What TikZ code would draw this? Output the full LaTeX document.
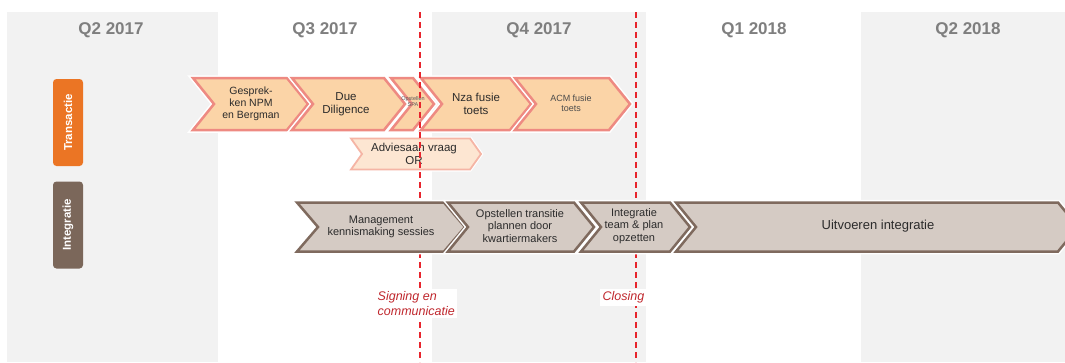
\documentclass[tikz,border=0pt]{standalone}
\usepackage{fontspec}
\setmainfont{Liberation Sans}
\definecolor{bggray}{HTML}{F2F2F2}
\definecolor{qgray}{HTML}{7F7F7F}
\definecolor{torange}{HTML}{EB7524}
\definecolor{ibrown}{HTML}{7B675A}
\definecolor{tfill}{HTML}{FBD4A7}
\definecolor{tline}{HTML}{EE8A82}
\definecolor{afill}{HTML}{FDE6D2}
\definecolor{aline}{HTML}{F5B5A5}
\definecolor{ifill}{HTML}{D5CBC4}
\definecolor{iline}{HTML}{7F6A5E}
\definecolor{mred}{HTML}{E8252D}
\definecolor{mtext}{HTML}{C0272D}
\definecolor{ctext}{HTML}{2B2B2B}
\newcommand\chevshape[6]{%
  \draw[#1] (#2,#4-#5) -- (#3,#4-#5) -- (#3+#6,#4) -- (#3,#4+#5) -- (#2,#4+#5) -- (#2+#6,#4) -- cycle;}
\begin{document}
\begin{tikzpicture}[x=1pt,y=-1pt,
  qlabel/.style={text=qgray, font=\bfseries\fontsize{17}{19}\selectfont},
  sidebox/.style={rotate=90, rounded corners=3.5pt, minimum width=87pt, minimum height=30pt,
    inner sep=0pt, text=white, font=\bfseries\fontsize{11.5}{13}\selectfont},
  tchev/.style={fill=tfill, draw=tline, line width=2.5pt, preaction={draw=white, line width=5.5pt}},
  achev/.style={fill=afill, draw=aline, line width=1.8pt, preaction={draw=white, line width=4pt}},
  ichev/.style={fill=ifill, draw=iline, line width=2.5pt, preaction={draw=white, line width=5.5pt}},
  ctxt/.style={align=center, text=ctext, inner sep=0pt, font=\fontsize{11}{12.3}\selectfont},
  milestone/.style={draw=mred, line width=1.5pt, dash pattern=on 6pt off 4pt},
  mlabel/.style={fill=white, text=mtext, inner sep=2.5pt, font=\itshape\fontsize{12.5}{15}\selectfont}
]
\useasboundingbox (0,0) rectangle (1065,362);
\clip (0,0) rectangle (1065,362);
% background columns
\fill[white] (0,0) rectangle (1065,362);
\fill[bggray] (7,12) rectangle (218,362);
\fill[bggray] (432,12) rectangle (646,362);
\fill[bggray] (861,12) rectangle (1065,362);
% quarter labels
\node[qlabel] (q2a) at (111,30) {Q2 2017};
\node[qlabel] (q3a) at (325,30) {Q3 2017};
\node[qlabel] (q4a) at (539,30) {Q4 2017};
\node[qlabel] (q1b) at (754,30) {Q1 2018};
\node[qlabel] (q2b) at (968,30) {Q2 2018};
% side labels
\node[sidebox, fill=torange] (transactie) at (68,122.5) {Transactie};
\node[sidebox, fill=ibrown] (integratie) at (68,225) {Integratie};
% transactie chevrons
\chevshape{tchev}{193}{287}{104}{26}{21}
\chevshape{tchev}{292}{384}{104}{26}{21}
\chevshape{tchev}{391}{413}{104}{26}{21}
\chevshape{tchev}{421}{510}{104}{26}{21}
\chevshape{tchev}{515}{609}{104}{26}{21}
\chevshape{achev}{351}{470}{154}{15.5}{11}
\node[ctxt, font=\fontsize{10.5}{12}\selectfont] (gesprek) at (251,104) {Gesprek-\\ken NPM\\en Bergman};
\node[ctxt, font=\fontsize{11.5}{12.5}\selectfont] (due) at (346,104) {Due\\Diligence};
\node[ctxt, text=black!65, font=\fontsize{5.5}{6}\selectfont] (spa) at (413,102) {Opstellen\\SPA};
\node[ctxt, font=\fontsize{11.5}{12.5}\selectfont] (nza) at (476,104) {Nza fusie\\toets};
\node[ctxt, text=black!70, font=\fontsize{9}{10}\selectfont] (acm) at (571,103) {ACM fusie\\toets};
\node[ctxt, font=\fontsize{11.5}{12.5}\selectfont] (advies) at (414,154) {Adviesaan vraag\\OR};
% milestone lines
\coordinate (signtop) at (420,12);
\coordinate (signbot) at (420,362);
\coordinate (closetop) at (636,12);
\coordinate (closebot) at (636,362);
\draw[milestone] (signtop) -- (signbot);
\draw[milestone] (closetop) -- (closebot);
% integratie chevrons
\chevshape{ichev}{297}{444}{227}{24.5}{21}
\chevshape{ichev}{448}{574}{227}{24.5}{20}
\chevshape{ichev}{581}{670}{227}{24.5}{20}
\chevshape{ichev}{676}{1058}{227}{24.5}{20}
\node[ctxt] (mgmt) at (381,227) {Management\\kennismaking sessies};
\node[ctxt] (transitie) at (520,226) {Opstellen transitie\\plannen door\\kwartiermakers};
\node[ctxt] (teamplan) at (634,226) {Integratie\\team \& plan\\opzetten};
\node[ctxt, font=\fontsize{13}{14}\selectfont] (uitvoeren) at (878,226) {Uitvoeren integratie};
% milestone labels
\node[mlabel, align=left, anchor=north west] (signing) at (375,289) {Signing en\\communicatie};
\node[mlabel, align=right, anchor=north east] (closing) at (647,289) {Closing};
\end{tikzpicture}
\end{document}
